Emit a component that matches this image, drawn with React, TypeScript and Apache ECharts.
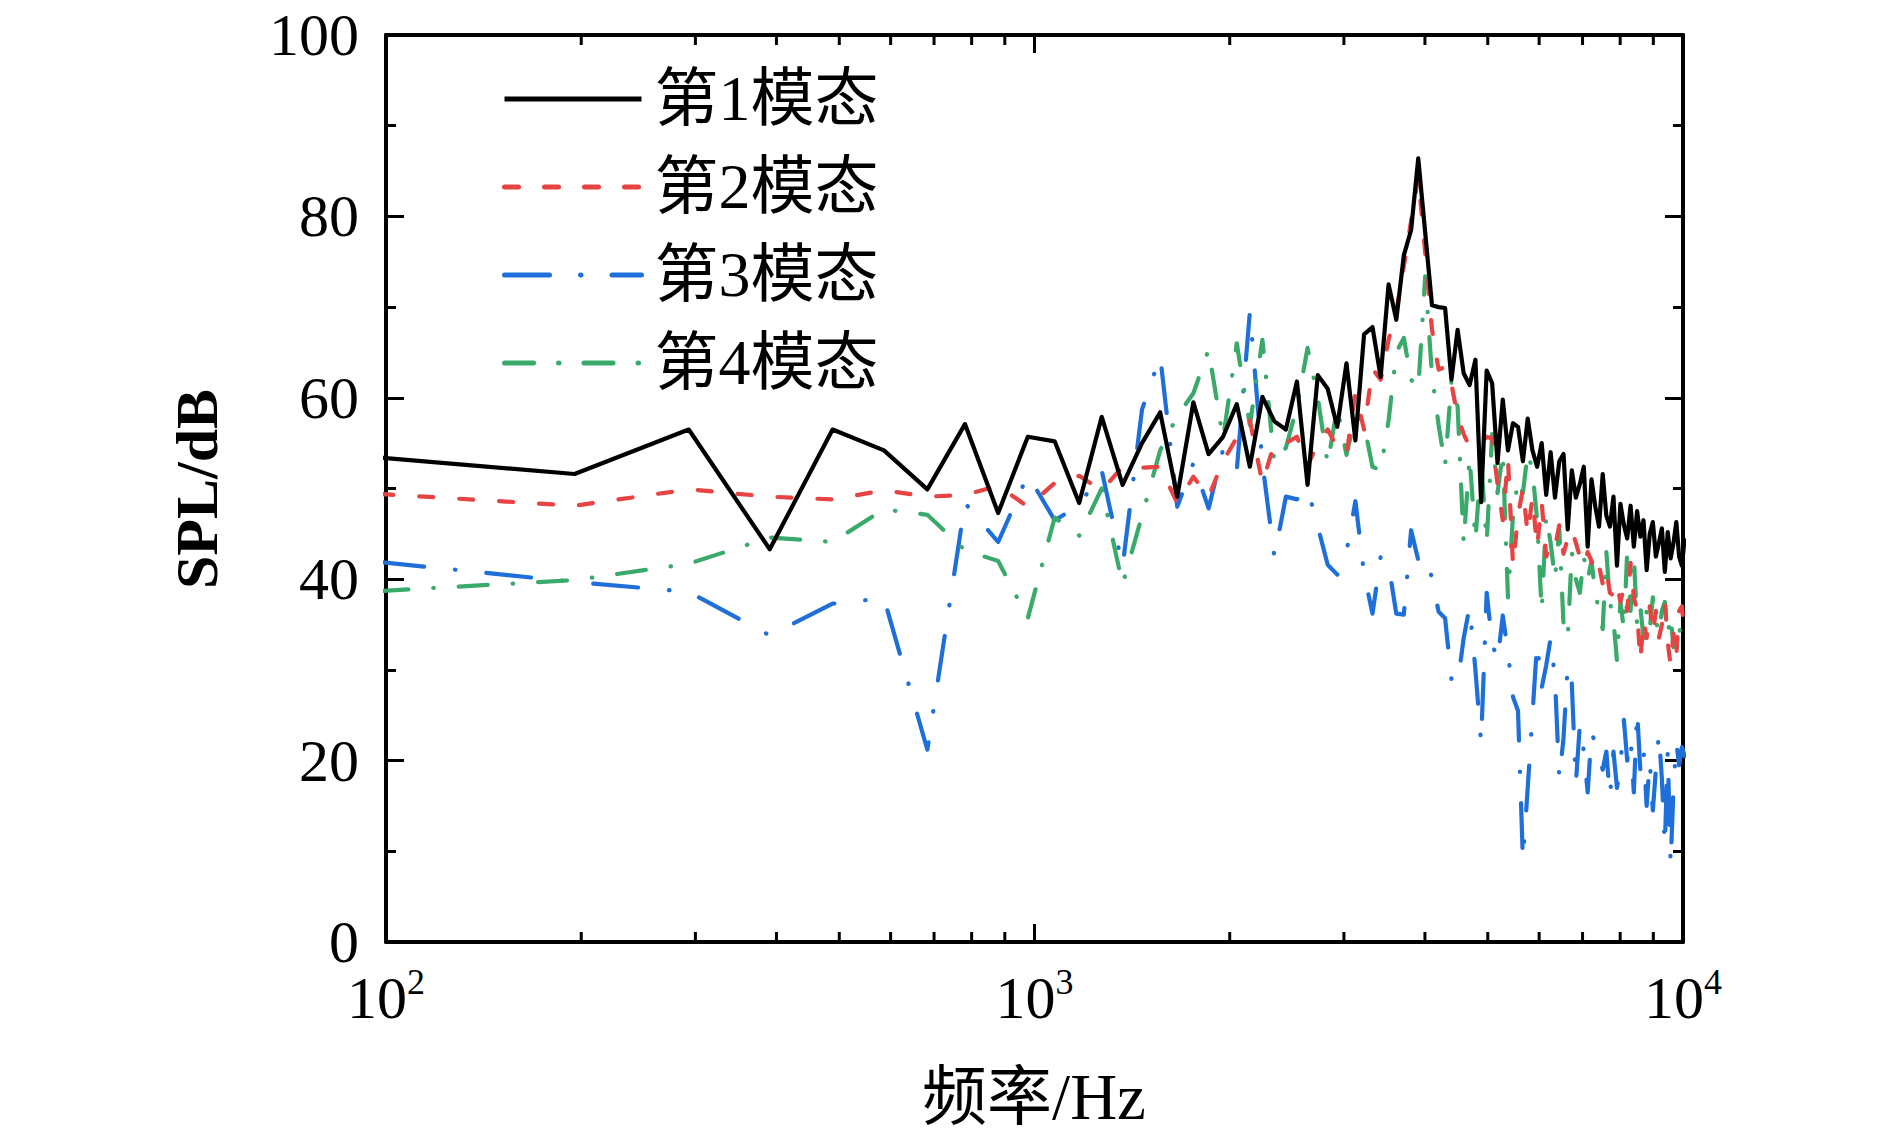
import { useEffect, useRef } from "react";
import * as echarts from "echarts";

// FFT bin spacing of the spectra (Hz); point k sits at k * FREQ_STEP_HZ
const FREQ_STEP_HZ = 97.65625;

const SERIES_NAMES = ["第1模态", "第2模态", "第3模态", "第4模态"];
const SERIES_COLORS = ["#000000", "#e84343", "#1f6fdb", "#3aaa6b"];

// SPL (dB) per bin, k = 1..103
const MODE1_SPL = [
  53.4, 51.6, 56.5, 43.3, 56.5, 54.2, 49.9, 57.1, 47.3, 55.7,
  55.2, 48.4, 57.9, 50.4, 55.0, 58.4, 49.1, 59.5, 53.8, 55.7,
  59.3, 52.4, 60.1, 57.4, 56.5, 61.8, 50.4, 62.5, 61.0, 56.8,
  63.8, 55.3, 67.0, 67.8, 62.3, 72.5, 68.6, 75.7, 78.5, 86.4,
  78.2, 70.2, 70.0, 69.9, 62.0, 67.5, 62.7, 61.4, 64.2, 48.5,
  63.0, 61.6, 52.8, 59.8, 54.2, 57.2, 56.8, 53.0, 57.7, 54.2,
  52.4, 55.0, 49.3, 54.0, 49.0, 53.0, 53.8, 45.5, 52.0, 49.0,
  50.5, 52.4, 43.6, 51.0, 48.0, 45.8, 51.6, 47.0, 45.8, 49.1,
  41.5, 48.3, 46.0, 44.5, 48.1, 43.6, 47.5, 44.7, 46.5, 41.0,
  45.0, 46.3, 42.5, 44.0, 45.6, 40.8, 45.2, 42.3, 44.0, 46.3,
  42.5, 41.5, 44.5,
];

const MODE2_SPL = [
  49.4, 48.1, 49.9, 49.1, 48.8, 49.8, 49.1, 49.3, 50.3, 48.0,
  50.6, 51.4, 49.8, 52.4, 52.3, 52.4, 48.4, 51.3, 49.1, 53.0,
  55.6, 57.5, 50.6, 55.0, 55.0, 55.7, 52.5, 55.0, 56.5, 54.5,
  53.7, 60.5, 56.5, 63.2, 62.0, 66.4, 69.5, 74.5, 79.5, 84.4,
  76.0, 67.5, 63.1, 63.4, 61.5, 58.0, 56.0, 54.6, 55.2, 55.0,
  55.7, 55.5, 50.5, 46.5, 53.3, 41.5, 47.0, 50.0, 45.0, 49.0,
  43.5, 48.5, 42.5, 44.0, 43.5, 46.0, 42.8, 44.5, 45.5, 44.0,
  42.5, 41.5, 43.0, 42.0, 40.5, 41.5, 39.5, 41.0, 38.5, 38.2,
  39.5, 37.5, 39.0, 36.5, 41.8, 38.0, 36.5, 31.0, 35.5, 33.5,
  37.0, 34.0, 36.5, 33.5, 35.0, 37.5, 33.0, 30.5, 34.0, 31.5,
  36.5, 37.0, 33.5,
];

const MODE3_SPL = [
  41.9, 39.7, 38.6, 33.8, 37.3, 37.9, 21.2, 48.4, 44.1, 51.5,
  46.5, 48.1, 52.0, 41.4, 58.7, 64.6, 48.0, 52.8, 47.8, 54.3,
  52.0, 69.5, 52.8, 42.5, 49.1, 48.8, 50.0, 45.8, 41.6, 40.5,
  43.0, 48.6, 40.6, 36.2, 42.5, 41.6, 36.2, 36.1, 45.4, 42.1,
  42.7, 40.1, 36.4, 35.7, 29.0, 28.5, 33.5, 37.0, 30.0, 22.0,
  38.5, 33.0, 31.0, 36.0, 32.0, 27.0, 25.5, 9.0, 17.0, 25.0,
  33.0, 28.0, 30.5, 33.5, 29.0, 18.0, 22.5, 30.5, 28.5, 17.5,
  24.0, 21.0, 16.5, 23.0, 22.0, 20.5, 19.0, 21.0, 16.0, 21.0,
  17.0, 19.5, 24.5, 20.0, 22.5, 16.5, 25.5, 19.0, 21.5, 15.0,
  20.0, 14.5, 19.0, 23.0, 18.0, 10.5, 21.0, 8.5, 17.0, 22.0,
  19.5, 21.5, 20.5,
];

const MODE4_SPL = [
  38.7, 39.9, 41.7, 44.6, 44.1, 47.7, 47.1, 43.2, 42.0, 35.7,
  46.8, 44.8, 50.0, 39.4, 47.0, 54.2, 58.0, 60.5, 65.3, 55.5,
  66.0, 57.0, 66.4, 52.8, 54.5, 59.0, 65.5, 60.0, 52.7, 59.0,
  53.7, 58.0, 57.0, 52.4, 52.0, 57.5, 65.0, 66.6, 62.0, 61.0,
  73.4, 62.5, 57.0, 52.5, 61.8, 59.0, 44.0, 53.5, 44.3, 53.0,
  44.0, 56.0, 49.5, 54.0, 38.0, 47.0, 51.0, 49.5, 54.0, 52.0,
  46.5, 36.5, 47.0, 44.0, 40.0, 45.5, 35.0, 33.5, 43.0, 40.0,
  38.5, 42.5, 40.0, 42.0, 38.5, 36.5, 34.5, 43.0, 37.5, 35.5,
  31.0, 37.5, 34.5, 43.0, 36.5, 42.5, 35.0, 37.0, 33.5, 36.5,
  34.5, 38.0, 35.5, 34.0, 36.5, 37.5, 34.0, 36.0, 32.5, 35.0,
  34.0, 35.5, 35.0,
];

const SERIES_VALUES = [MODE1_SPL, MODE2_SPL, MODE3_SPL, MODE4_SPL];

const X_MIN_HZ = 100;
const X_MAX_HZ = 10000;
const Y_MIN_DB = 0;
const Y_MAX_DB = 100;
const Y_STEP_DB = 20;
const MINOR_X_TICKS_HZ = [
  200, 300, 400, 500, 600, 700, 800, 900,
  2000, 3000, 4000, 5000, 6000, 7000, 8000, 9000,
];

const X_TITLE = "频率/Hz";
const Y_TITLE = "SPL/dB";

const SERIF = "'Liberation Serif', 'Times New Roman', 'Noto Sans CJK SC', serif";

const LINE_WIDTH = 4.2;
const LINE_TYPES: any[] = [
  "solid",
  [14, 26],
  [45, 31, 0.5, 31],
  [29, 25, 0.5, 25],
];
const Z_ORDER = [6, 5, 3, 4];

function toPairs(values: number[]) {
  return values.map((v, i) => [(i + 1) * FREQ_STEP_HZ, v]);
}

export default function App() {
  const ref = useRef<HTMLDivElement>(null);

  useEffect(() => {
    document.body.style.margin = "0";
    const el = ref.current;
    if (!el) return;
    const chart = echarts.init(el, undefined, { renderer: "svg" });

    const axisLine = { show: true, onZero: false, lineStyle: { color: "#000", width: 4 } };
    const axisTick = { show: true, inside: true, length: 18, lineStyle: { color: "#000", width: 3 } };

    const lineSeries = SERIES_NAMES.map((name, i) => ({
      name,
      type: "line",
      xAxisIndex: 0,
      yAxisIndex: 0,
      data: toPairs(SERIES_VALUES[i]),
      showSymbol: false,
      symbol: "none",
      z: Z_ORDER[i],
      lineStyle: {
        color: SERIES_COLORS[i],
        width: LINE_WIDTH,
        type: LINE_TYPES[i],
        cap: i === 0 ? "butt" : "round",
        join: "round",
      },
      itemStyle: { color: SERIES_COLORS[i] },
      emphasis: { disabled: true },
    }));

    const option: any = {
      animation: false,
      backgroundColor: "#ffffff",
      grid: { left: 386, top: 35, width: 1297, height: 907, containLabel: false },
      legend: {
        data: SERIES_NAMES,
        orient: "vertical",
        left: 497,
        top: 62,
        itemWidth: 137,
        itemHeight: 62,
        itemGap: 24,
        lineStyle: { width: 5 },
        itemStyle: { opacity: 0, borderWidth: 0 },
        textStyle: {
          fontFamily: SERIF,
          fontSize: 64,
          lineHeight: 62,
          color: "#000",
          padding: [0, 0, 0, 8],
        },
        selectedMode: false,
      },
      xAxis: [
        {
          type: "log",
          logBase: 10,
          min: X_MIN_HZ,
          max: X_MAX_HZ,
          position: "bottom",
          axisLine,
          axisTick,
          minorTick: { show: false },
          splitLine: { show: false },
          axisLabel: {
            margin: 22,
            formatter: (v: number) => `{b|10}{s|${Math.round(Math.log10(v))}}`,
            rich: {
              b: { fontFamily: SERIF, fontSize: 60, color: "#000", lineHeight: 64, verticalAlign: "bottom" },
              s: { fontFamily: SERIF, fontSize: 36, color: "#000", lineHeight: 40, verticalAlign: "top" },
            },
          },
        },
        {
          type: "log",
          logBase: 10,
          min: X_MIN_HZ,
          max: X_MAX_HZ,
          position: "top",
          axisLine,
          axisTick,
          minorTick: { show: false },
          splitLine: { show: false },
          axisLabel: { show: false },
        },
      ],
      yAxis: [
        {
          type: "value",
          min: Y_MIN_DB,
          max: Y_MAX_DB,
          interval: Y_STEP_DB,
          position: "left",
          axisLine,
          axisTick,
          minorTick: { show: true, splitNumber: 2, length: 10, lineStyle: { color: "#000", width: 3 } },
          splitLine: { show: false },
          axisLabel: { fontFamily: SERIF, fontSize: 60, color: "#000", margin: 27 },
        },
        {
          type: "value",
          min: Y_MIN_DB,
          max: Y_MAX_DB,
          interval: Y_STEP_DB,
          position: "right",
          axisLine,
          axisTick,
          minorTick: { show: true, splitNumber: 2, length: 10, lineStyle: { color: "#000", width: 3 } },
          splitLine: { show: false },
          axisLabel: { show: false },
        },
      ],
      graphic: [
        {
          type: "text",
          x: 1034,
          y: 1097,
          style: {
            text: X_TITLE,
            fontFamily: SERIF,
            fontSize: 65,
            fill: "#000",
            align: "center",
            verticalAlign: "middle",
          },
        },
        {
          type: "text",
          x: 197,
          y: 489,
          rotation: Math.PI / 2,
          style: {
            text: Y_TITLE,
            fontFamily: SERIF,
            fontSize: 60,
            fontWeight: "bold",
            fill: "#000",
            align: "center",
            verticalAlign: "middle",
          },
        },
      ],
      series: [
        ...lineSeries,
        {
          type: "custom",
          name: "minorXTicks",
          xAxisIndex: 0,
          yAxisIndex: 0,
          silent: true,
          clip: false,
          z: 10,
          data: MINOR_X_TICKS_HZ.map((v) => [v, Y_MIN_DB]),
          renderItem: (params: any, api: any) => {
            const cs = params.coordSys;
            const x = api.coord([api.value(0), Y_MIN_DB])[0];
            const top = cs.y;
            const bottom = cs.y + cs.height;
            return {
              type: "group",
              children: [
                { type: "line", shape: { x1: x, y1: bottom, x2: x, y2: bottom - 10 }, style: { stroke: "#000", lineWidth: 3 } },
                { type: "line", shape: { x1: x, y1: top, x2: x, y2: top + 10 }, style: { stroke: "#000", lineWidth: 3 } },
              ],
            };
          },
        },
      ],
    };

    chart.setOption(option);
    return () => {
      chart.dispose();
    };
  }, []);

  return <div ref={ref} style={{ width: 1890, height: 1144 }} />;
}
